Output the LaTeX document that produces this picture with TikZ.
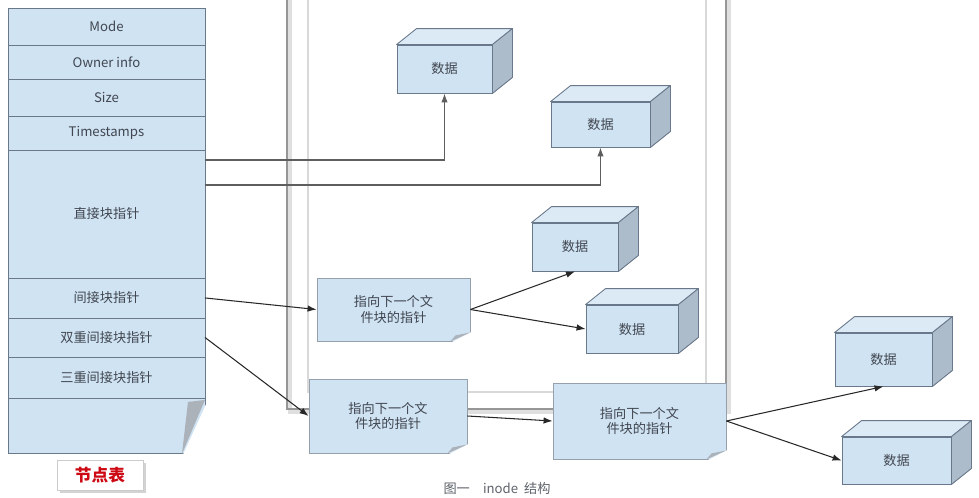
\documentclass[tikz,border=0pt]{standalone}
\usepackage{fontspec}
\setmainfont{Noto Sans CJK SC}
\usetikzlibrary{arrows.meta,positioning,shadows}
\definecolor{paleblue}{RGB}{207,227,242}
\definecolor{topblue}{RGB}{220,234,246}
\definecolor{sideblue}{RGB}{172,188,202}
\definecolor{edge}{RGB}{105,120,138}
\definecolor{foldgray}{RGB}{172,178,186}
\definecolor{ink}{RGB}{65,70,80}
\definecolor{wire}{RGB}{40,40,40}
\definecolor{framegray}{RGB}{150,150,150}
\definecolor{labelred}{RGB}{205,10,20}
\tikzset{
  >={Latex[length=1.8mm,width=1.3mm]},
  txt/.style={font=\fontsize{7.5}{9}\selectfont,text=ink,align=center},
  row/.style={txt,draw=edge,fill=paleblue,line width=0.5pt,inner sep=0pt,outer sep=0pt,
    minimum width=3.94cm,minimum height=#1},
  datablock/.style={txt,draw=edge,fill=paleblue,line width=0.5pt,inner sep=0pt},
  note/.style={txt,draw=edge!70,fill=paleblue,line width=0.5pt,inner sep=0pt},
  ptr/.style={->,draw=wire,line width=0.6pt},
  direct/.style={->,draw=wire!75,line width=0.7pt},
  topface/.style={fill=topblue,draw=edge,line width=0.5pt,line join=round},
  sideface/.style={fill=sideblue,draw=edge,line width=0.5pt,line join=round},
}

\begin{document}
\begin{tikzpicture}[x=0.02cm,y=-0.02cm]
  \useasboundingbox (0,0) rectangle (979,497);
  % window frames behind the blocks
  \draw[framegray!30,line width=1.8pt] (290,0) -- (290,412) -- (729,412) -- (729,0);
  \draw[framegray,line width=0.8pt] (287,0) -- (287,409) -- (726,409) -- (726,0);
  \draw[black!15,line width=0.6pt] (308,0) -- (308,392) -- (706,392) -- (706,0);

  % inode table
  \node[row=0.74cm] (r1) at (106.5,26.5) {Mode};
  \node[row=0.68cm,below=0pt of r1] (r2) {Owner info};
  \node[row=0.74cm,below=0pt of r2] (r3) {Size};
  \node[row=0.68cm,below=0pt of r3] (r4) {Timestamps};
  \node[row=2.56cm,below=0pt of r4] (r5) {直接块指针};
  \node[row=0.8cm,below=0pt of r5] (r6) {间接块指针};
  \node[row=0.78cm,below=0pt of r6] (r7) {双重间接块指针};
  \node[row=0.84cm,below=0pt of r7] (r8) {三重间接块指针};
  \node[row=1.1cm,below=0pt of r8] (r9) {};
  \fill[white] ([shift={(3,1)}]r9.north east) -- ([shift={(3,3)}]r9.south east) -- ([shift={(-23,3)}]r9.south east) -- cycle;
  \fill[foldgray] ([yshift=-0.02cm]r9.north east) -- ++(-17,2) -- ([xshift=-23*0.02cm]r9.south east) -- cycle;

  \node[draw=black!20,fill=white,minimum width=1.72cm,minimum height=0.6cm,
    font=\fontsize{9.5}{11}\selectfont\bfseries,text=labelred,
    drop shadow={opacity=0.35,shadow xshift=0.6mm,shadow yshift=-0.6mm}] (tbl) at (100,475) {节点表};

  % data blocks
  \node[datablock,minimum width=1.9cm,minimum height=0.96cm] (d1) at (444.5,69) {数据};
  \node[datablock,minimum width=1.98cm,minimum height=0.9cm] (d2) at (600.5,124.5) {数据};
  \node[datablock,minimum width=1.72cm,minimum height=0.96cm] (d3) at (575,247) {数据};
  \node[datablock,minimum width=1.84cm,minimum height=0.96cm] (d4) at (632,329) {数据};
  \node[datablock,minimum width=1.94cm,minimum height=1.06cm] (d5) at (883.5,359.5) {数据};
  \node[datablock,minimum width=2.18cm,minimum height=0.94cm] (d6) at (896.5,460.5) {数据};
  \foreach \d in {d1,d2,d3,d4,d5,d6}{
    \draw[topface] (\d.north west) -- (\d.north east) -- ++(20,-16) -- ([shift={(20,-16)}]\d.north west) -- cycle;
    \draw[sideface] (\d.north east) -- ++(20,-16) -- ([shift={(20,-16)}]\d.south east) -- (\d.south east) -- cycle;
  }

  % pointer blocks
  \node[note,minimum width=3.06cm,minimum height=1.26cm] (n1) at (393.5,309.5) {指向下一个文\\件块的指针};
  \node[note,minimum width=3.16cm,minimum height=1.48cm] (n2) at (388,416) {指向下一个文\\件块的指针};
  \node[note,minimum width=3.46cm,minimum height=1.52cm] (n3) at (639.5,421) {指向下一个文\\件块的指针};
  \foreach \n in {n1,n2,n3}{
    \fill[white] ([shift={(-21,2)}]\n.south east) -- ([shift={(2,2)}]\n.south east) -- ([shift={(2,-10)}]\n.south east) -- cycle;
    \fill[foldgray] ([xshift=-20*0.02cm]\n.south east) -- ([yshift=9*0.02cm]\n.south east) -- ([shift={(-15,-6)}]\n.south east) -- cycle;
  }

  % connectors
  \draw[direct] (r5.east |- 0,160) -- (d1.south |- 0,160) -- (d1.south);
  \draw[direct] (r5.east |- 0,185) -- (d2.south |- 0,185) -- (d2.south);
  \draw[ptr] (r6.east) -- (n1.west);
  \draw[ptr] (r7.east) -- (n2.west);
  \draw[ptr] (n1.east) -- (d3.south);
  \draw[ptr] (n1.east) -- (d4.west);
  \draw[ptr] (n2.east) -- (n3.west);
  \draw[ptr] (n3.east) -- (d5.south);
  \draw[ptr] (n3.east) -- (d6.west);

  \node[txt,text=ink!85] (cap) at (497,488) {图一\quad inode\ \ 结构};
\end{tikzpicture}
\end{document}
